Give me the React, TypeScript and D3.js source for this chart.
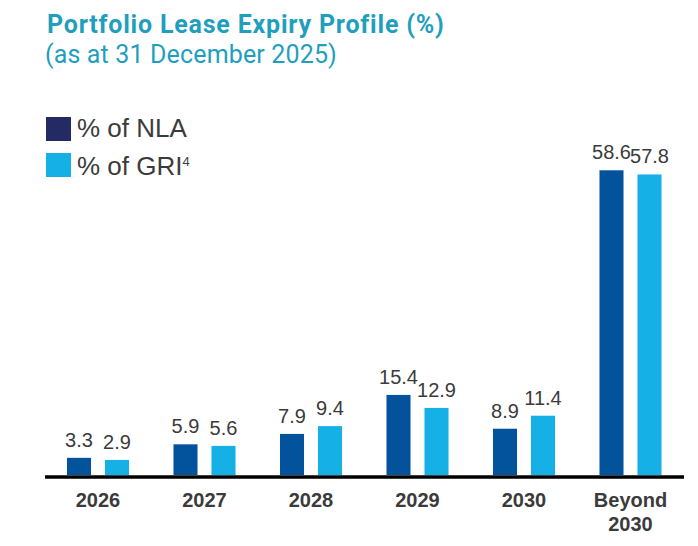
import React from "react";
import * as d3 from "d3";

const categories: string[][] = [["2026"], ["2027"], ["2028"], ["2029"], ["2030"], ["Beyond", "2030"]];
const nlaValues: number[] = [3.3, 5.9, 7.9, 15.4, 8.9, 58.6];
const griValues: number[] = [2.9, 5.6, 9.4, 12.9, 11.4, 57.8];
const seriesKeys = ["nla", "gri"];

const WIDTH = 698;
const HEIGHT = 546;
const BASELINE = 475;

const NLA_BAR = "#03529c";
const NLA_LEGEND = "#242a64";
const GRI_BAR = "#14b0e6";
const TEXT = "#3b3b3b";
const TITLE = "#1f9fbd";

export default function App() {
  const keys = categories.map((c) => c.join(" "));
  const x0 = d3.scaleBand<string>().domain(keys).range([44.75, 683.75]).padding(0);
  const x1 = d3
    .scaleBand<string>()
    .domain(seriesKeys)
    .range([0, x0.bandwidth()])
    .paddingInner(0.368)
    .paddingOuter(0.585);
  const y = d3.scaleLinear().domain([0, 60]).range([BASELINE, BASELINE - 312]);

  const rows = keys.map((k, i) => ({
    key: k,
    lines: categories[i],
    values: { nla: nlaValues[i], gri: griValues[i] } as Record<string, number>,
  }));
  const colors: Record<string, string> = { nla: NLA_BAR, gri: GRI_BAR };

  return (
    <svg
      width={WIDTH}
      height={HEIGHT}
      style={{ position: "absolute", left: 0, top: 0, display: "block", background: "#fff" }}
    >
      <text
        x={47}
        y={33}
        fill={TITLE}
        fontFamily="Roboto, Arial, sans-serif"
        fontWeight={700}
        fontSize={25}
        letterSpacing={0.8}
      >
        Portfolio Lease Expiry Profile (%)
      </text>
      <text
        x={45}
        y={63}
        fill={TITLE}
        fontFamily="Roboto, Arial, sans-serif"
        fontWeight={400}
        fontSize={25}
        letterSpacing={0.15}
      >
        (as at 31 December 2025)
      </text>

      {/* legend */}
      <g fontFamily="'Liberation Sans', Arial, sans-serif" fill={TEXT} fontSize={26}>
        <rect x={46} y={117} width={25} height={24} fill={NLA_LEGEND} />
        <text x={77} y={137}>% of NLA</text>
        <rect x={46} y={153} width={25} height={24} fill={GRI_BAR} />
        <text x={77} y={175}>
          % of GRI
          <tspan fontSize={13} dy={-9}>4</tspan>
        </text>
      </g>

      {/* bars and value labels */}
      {rows.map((r) => (
        <g key={r.key} transform={`translate(${x0(r.key)},0)`}>
          {seriesKeys.map((s) => {
            const v = r.values[s];
            const bx = x1(s)!;
            const bw = x1.bandwidth();
            return (
              <g key={s}>
                <rect x={bx} y={y(v)} width={bw} height={BASELINE - y(v)} fill={colors[s]} />
                <text
                  x={bx + bw / 2}
                  y={y(v) - 11}
                  textAnchor="middle"
                  fontFamily="'Liberation Sans', Arial, sans-serif"
                  fontSize={20}
                  fill={TEXT}
                >
                  {v.toFixed(1)}
                </text>
              </g>
            );
          })}
          {r.lines.map((line, li) => (
            <text
              key={li}
              x={x0.bandwidth() / 2}
              y={507 + li * 24}
              textAnchor="middle"
              fontFamily="'Liberation Sans', Arial, sans-serif"
              fontWeight={700}
              fontSize={20}
              fill={TEXT}
            >
              {line}
            </text>
          ))}
        </g>
      ))}

      {/* axis baseline */}
      <line x1={45} x2={684} y1={477} y2={477} stroke="#000" strokeWidth={3.4} />
    </svg>
  );
}
